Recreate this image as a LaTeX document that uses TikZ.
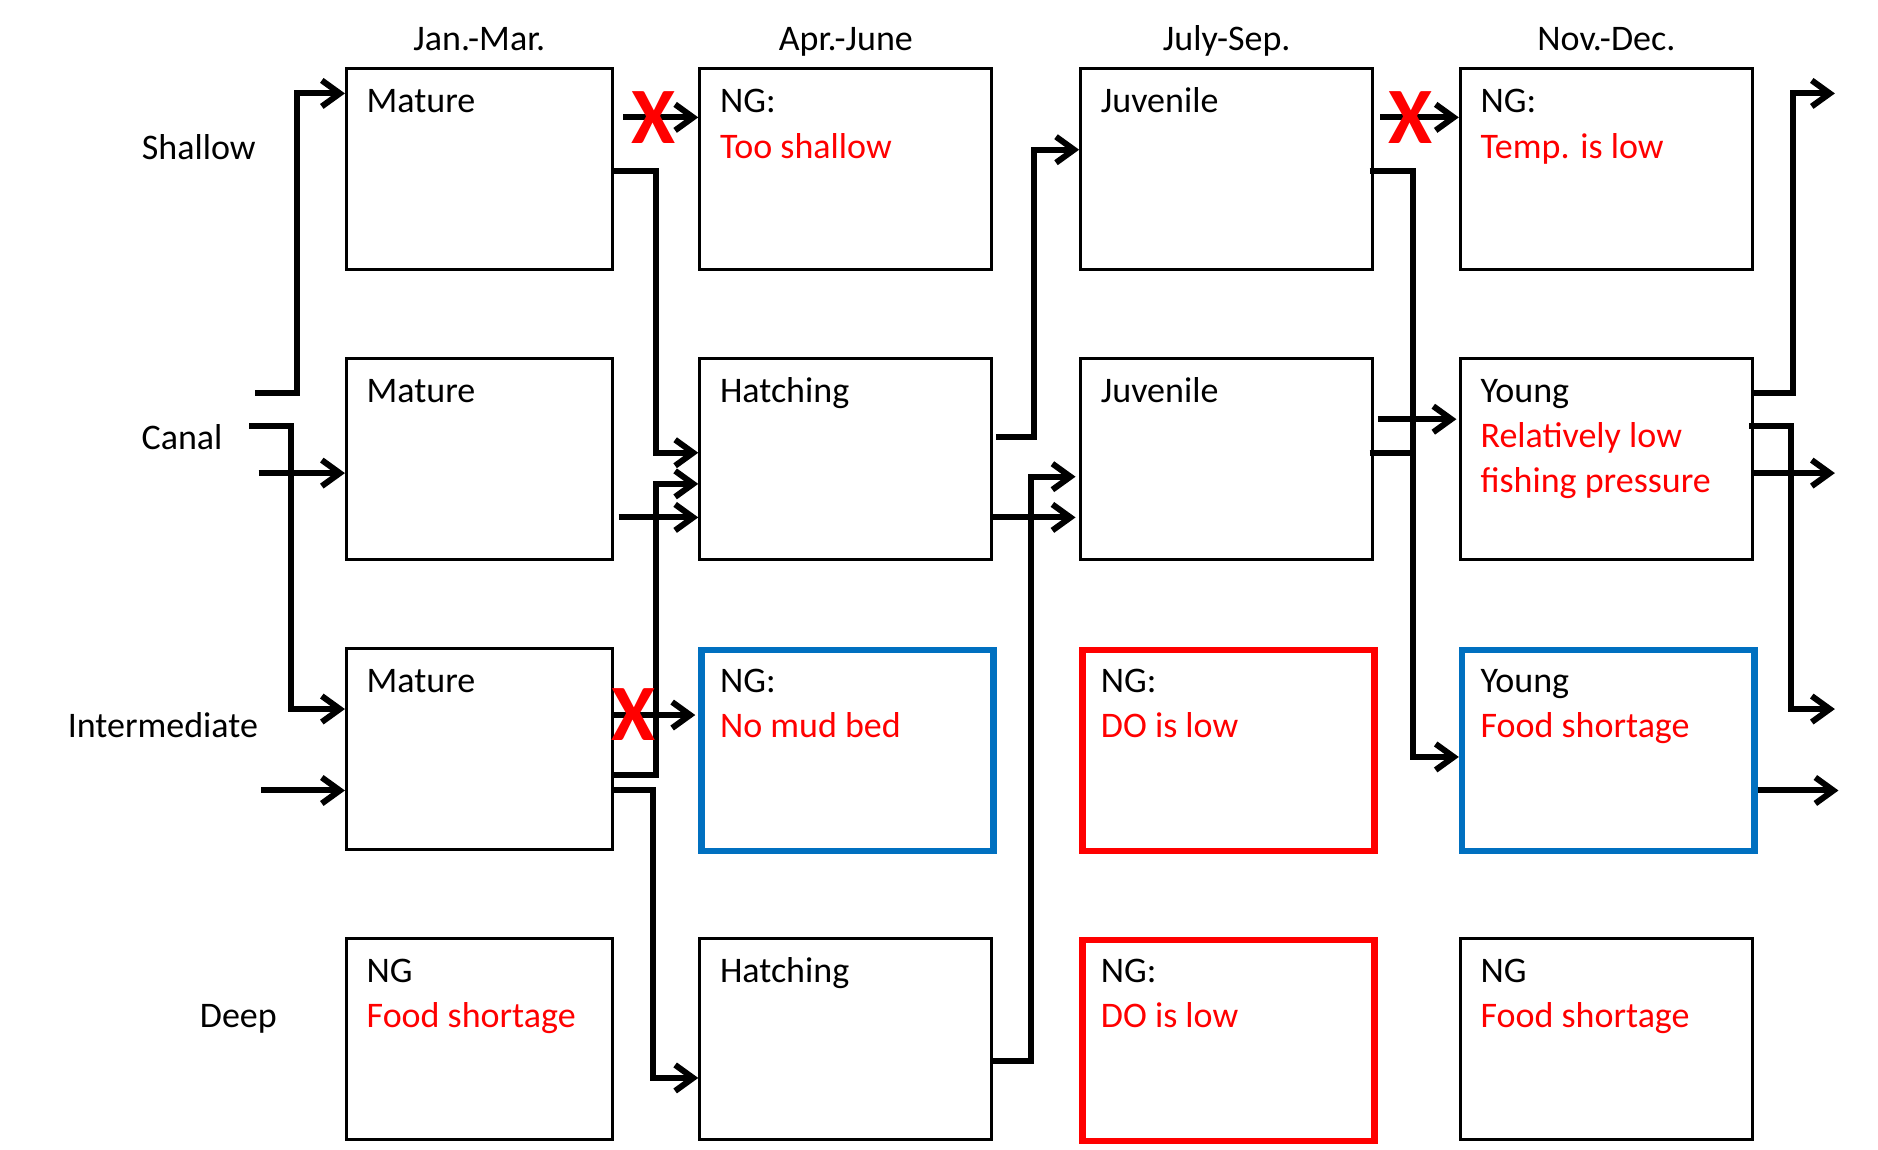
\documentclass[tikz,border=0pt]{standalone}
\usepackage{fontspec}
\setmainfont{Carlito}
\usetikzlibrary{arrows.meta,calc}
\definecolor{ngred}{HTML}{FF0000}
\definecolor{ngblue}{HTML}{0070C0}
\begin{document}
\begin{tikzpicture}[x=1.1977pt,y=-1.1977pt,
  box/.style={draw=black, line width=3pt, rectangle, inner sep=0pt, anchor=north west, minimum height=201.2pt},
  wide/.style={minimum width=292.2pt},
  narrow/.style={minimum width=265.9pt},
  bluebox/.style={draw=ngblue, line width=6.5pt},
  redbox/.style={draw=ngred, line width=6.5pt},
  txt/.style={anchor=base west, inner sep=0pt, font=\fontsize{36}{44}\selectfont},
  rtxt/.style={txt, text=ngred},
  lbl/.style={anchor=base, inner sep=0pt, font=\fontsize{36}{44}\selectfont},
  xmark/.style={text=ngred, inner sep=0pt, font=\fontsize{80}{80}\selectfont\bfseries},
  arr/.style={line width=6pt, -{Straight Barb[length=18pt,width=26pt]}},
  conn/.style={line width=6pt}]
\useasboundingbox (0,0) rectangle (1568,960);
% boxes
\node[box,narrow] (a1) at (288,56) {};
\node[box,narrow] (a2) at (288,298) {};
\node[box,narrow] (a3) at (288,540) {};
\node[box,narrow] (a4) at (288,782) {};
\node[box,wide] (b1) at (583,56) {};
\node[box,wide] (b2) at (583,298) {};
\node[box,wide,bluebox] (b3) at (583,540) {};
\node[box,wide] (b4) at (583,782) {};
\node[box,wide] (c1) at (901,56) {};
\node[box,wide] (c2) at (901,298) {};
\node[box,wide,redbox] (c3) at (901,540) {};
\node[box,wide,redbox] (c4) at (901,782) {};
\node[box,wide] (d1) at (1218,56) {};
\node[box,wide] (d2) at (1218,298) {};
\node[box,wide,bluebox] (d3) at (1218,540) {};
\node[box,wide] (d4) at (1218,782) {};
% box texts
\node[txt] (ta1) at ($(a1.north west)+(18,38)$) {Mature};
\node[txt] (ta2) at ($(a2.north west)+(18,38)$) {Mature};
\node[txt] (ta3) at ($(a3.north west)+(18,38)$) {Mature};
\node[txt] (ta4) at ($(a4.north west)+(18,38)$) {NG};
\node[rtxt] (ta4r) at ($(a4.north west)+(18,76)$) {Food shortage};
\node[txt] (tb1) at ($(b1.north west)+(18,38)$) {NG:};
\node[rtxt] (tb1r) at ($(b1.north west)+(18,76)$) {Too shallow};
\node[txt] (tb2) at ($(b2.north west)+(18,38)$) {Hatching};
\node[txt] (tb3) at ($(b3.north west)+(18,38)$) {NG:};
\node[rtxt] (tb3r) at ($(b3.north west)+(18,76)$) {No mud bed};
\node[txt] (tb4) at ($(b4.north west)+(18,38)$) {Hatching};
\node[txt] (tc1) at ($(c1.north west)+(18,38)$) {Juvenile};
\node[txt] (tc2) at ($(c2.north west)+(18,38)$) {Juvenile};
\node[txt] (tc3) at ($(c3.north west)+(18,38)$) {NG:};
\node[rtxt] (tc3r) at ($(c3.north west)+(18,76)$) {DO is low};
\node[txt] (tc4) at ($(c4.north west)+(18,38)$) {NG:};
\node[rtxt] (tc4r) at ($(c4.north west)+(18,76)$) {DO is low};
\node[txt] (td1) at ($(d1.north west)+(18,38)$) {NG:};
\node[rtxt] (td1r) at ($(d1.north west)+(18,76)$) {Temp. is low};
\node[txt] (td2) at ($(d2.north west)+(18,38)$) {Young};
\node[rtxt] (td2r) at ($(d2.north west)+(18,76)$) {Relatively low};
\node[rtxt] (td2s) at ($(d2.north west)+(18,113)$) {fishing pressure};
\node[txt] (td3) at ($(d3.north west)+(18,38)$) {Young};
\node[rtxt] (td3r) at ($(d3.north west)+(18,76)$) {Food shortage};
\node[txt] (td4) at ($(d4.north west)+(18,38)$) {NG};
\node[rtxt] (td4r) at ($(d4.north west)+(18,76)$) {Food shortage};
% headers
\node[lbl] (h1) at ($(a1.north)+(0,-14)$) {Jan.-Mar.};
\node[lbl] (h2) at ($(b1.north)+(0,-14)$) {Apr.-June};
\node[lbl] (h3) at ($(c1.north)+(0,-14)$) {July-Sep.};
\node[lbl] (h4) at ($(d1.north)+(0,-14)$) {Nov.-Dec.};
% row labels
\node[lbl] (r1) at (166,133) {Shallow};
\node[lbl] (r2) at (152,375) {Canal};
\node[lbl] (r3) at (136,616) {Intermediate};
\node[lbl] (r4) at (199,858) {Deep};
% free ends
\coordinate (inS) at (213,328);
\coordinate (inC1) at (208,356);
\coordinate (inC2) at (216,395);
\coordinate (inI) at (218,660);
\coordinate (outA) at (1532,78);
\coordinate (outB) at (1532,592);
\coordinate (outC) at (1532,395);
\coordinate (outD) at (1535,660);
% inputs
\draw[arr] (inS) -- (248,328) |- (a1.west |- 0,78);
\draw[arr] (inC1) -- (243,356) |- (a3.west |- 0,592);
\draw[arr] (inC2) -- (a2.west |- 0,395);
\draw[arr] (inI) -- (a3.west |- 0,660);
% column 1 -> 2
\draw[arr] ($(a1.east |- 0,98)+(8,0)$) -- (b1.west |- 0,98);
\draw[arr] (a1.east |- 0,143) -| (548,378) -- (b2.west |- 0,378);
\draw[arr] (a3.east |- 0,647) -| (548,404) -- (b2.west |- 0,404);
\draw[arr] ($(a2.east |- 0,432)+(4,0)$) -- (b2.west |- 0,432);
\draw[arr, shorten >=3pt] (a3.east |- 0,597) -- (b3.west |- 0,597);
\draw[arr] (a3.east |- 0,660) -| (545,900) -- (b4.west |- 0,900);
% column 2 -> 3
\draw[arr] ($(b2.east |- 0,365)+(2,0)$) -| (863,125) -- (c1.west |- 0,125);
\draw[arr] (b2.east |- 0,432) -- ($(c2.west |- 0,432)+(-3,0)$);
\draw[arr] (b4.east |- 0,886) -| (861,398) -- ($(c2.west |- 0,398)+(-3,0)$);
% column 3 -> 4
\draw[arr] ($(c1.east |- 0,98)+(5,0)$) -- (d1.west |- 0,98);
\draw[arr] ($(c1.east |- 0,143)+(-4,0)$) -| (1180,632) -- (d3.west |- 0,632);
\draw[arr] ($(c2.east |- 0,350)+(3,0)$) -- ($(d2.west |- 0,350)+(-2,0)$);
\draw[conn] ($(c2.east |- 0,378)+(-4,0)$) -- (1180,378);
% outputs
\draw[arr] (d2.east |- 0,328) -| (1497,78) -- (outA);
\draw[arr] ($(d2.east |- 0,356)+(-4,0)$) -| (1495,592) -- (outB);
\draw[arr] (d2.east |- 0,395) -- (outC);
\draw[arr] (d3.east |- 0,660) -- (outD);
% crosses
\node[xmark] (x1) at (546,98) {X};
\node[xmark] (x2) at (529,597) {X};
\node[xmark] (x3) at (1178,98) {X};
\end{tikzpicture}
\end{document}
